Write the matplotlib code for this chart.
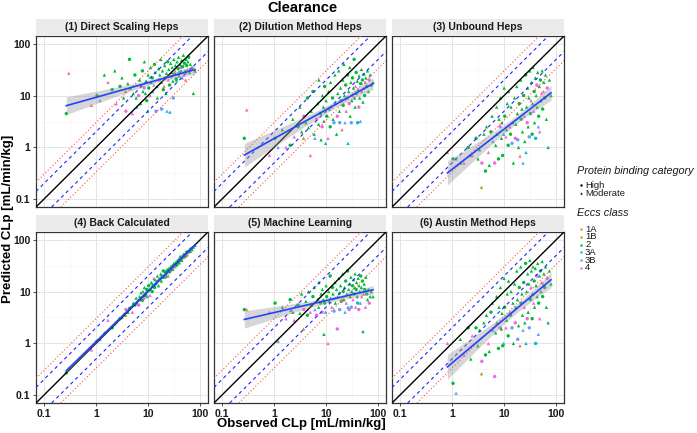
import numpy as np
import matplotlib.pyplot as plt

plt.rcParams['font.family'] = ['Liberation Sans', 'DejaVu Sans']

# ---- data (log-log CLp in mL/min/kg) ----
panel_titles = ["(1) Direct Scaling Heps", "(2) Dilution Method Heps", "(3) Unbound Heps",
                "(4) Back Calculated", "(5) Machine Learning", "(6) Austin Method Heps"]

observed = [0.27, 0.30, 0.82, 1.05, 1.2, 1.45, 1.7, 2.05, 2.3, 2.45,
            2.9, 3.15, 3.4, 3.7, 3.75, 4.1, 4.4, 4.6, 5.0, 5.2,
            5.6, 5.9, 6.1, 6.6, 6.9, 7.2, 7.3, 7.8, 8.0, 8.4,
            8.5, 8.9, 9.1, 9.4, 9.8, 10.0, 10.3, 10.9, 11.2, 11.5,
            12.0, 12.2, 12.9, 13.3, 13.6, 14.2, 14.8, 15.1, 15.9, 16.4,
            16.8, 17.5, 18.0, 18.3, 19.0, 19.6, 20.2, 20.9, 21.3, 22.0,
            22.6, 23.1, 23.8, 24.4, 25.0, 25.9, 26.3, 27.1, 27.8, 28.4,
            29.0, 29.9, 30.5, 31.2, 32.1, 32.9, 33.5, 34.6, 35.2, 36.0,
            36.9, 37.8, 38.5, 39.7, 40.4, 41.3, 42.5, 43.1, 44.2, 45.5,
            46.2, 47.6, 48.3, 49.9, 51.0, 52.4, 53.8, 55.0, 56.7, 58.1,
            60.2, 62.5, 64.8, 67.3, 70.1, 74.0, 79.5]

eccs = ["2", "1A", "4", "2", "3B", "2", "4", "2", "2", "4",
        "2", "2", "2", "1B", "4", "2", "2", "2", "4", "2",
        "2", "2", "3B", "4", "2", "2", "2", "2", "2", "4",
        "2", "2", "2", "2", "3A", "2", "2", "4", "2", "2",
        "2", "2", "4", "2", "2", "3B", "2", "2", "2", "4",
        "2", "2", "2", "3B", "2", "2", "1A", "2", "2", "2",
        "2", "3B", "2", "4", "2", "2", "3A", "2", "4", "2",
        "2", "2", "3B", "2", "2", "4", "2", "2", "2", "2",
        "4", "2", "2", "2", "3A", "2", "4", "2", "2", "3B",
        "2", "2", "4", "2", "2", "1A", "2", "2", "4", "2",
        "2", "2", "2", "4", "2", "2", "2"]

binding = ("HMMHMMMHMM" "HMMMHMHMMM" "HMMHMMMHMH" "MMMHMMHMMM" "HMMHMHMMMH"
           "MMMHMHMMHM" "MMHMMHMMHM" "MMHMHMMHMM" "MHMMHMHMMM" "HMMHMMMHMM" "HMMHMMM")

nan = np.nan
pred_direct = [4.5, 27, 6.5, 10, 8, 25, 18, 13, 30, 7,
               15, 22, 9, 12, 5, 17, 50, 14, 4.5, 11,
               25, 9, 6, 10, 20, 7, 16, 30, 12, 14,
               45, 11, 19, 8, 5, 25, 14, 10, 35, 18,
               22, 12, 16, 40, 28, 5, 15, 9, 33, 20,
               25, 50, 18, 5.5, 30, 13, 15, 38, 22, 11,
               27, 5, 45, 20, 32, 16, 4.8, 42, 23, 28,
               35, 19, 9, 50, 26, 30, 38, 21, 20, 45,
               26, 33, 55, 24, 28, 40, 35, 30, 48, 22,
               36, 60, 25, 42, 30, 20, 50, 38, 32, 45,
               55, 28, 40, 33, 35, 11, 30]
pred_dilution = [1.5, 5.3, 0.7, 1.5, 1.0, 2.2, 1.0, 1.1, 3.5, 1.6,
                 2.5, 6, 2.0, 1.5, 4, 3, 9, 2.4, 0.7, 5,
                 12, 1.8, 1.5, 3.5, 7, 2.8, 20, 4.5, 1.4, 2.5,
                 10, 6, 3.2, 15, 1.2, 8, 4, 1.5, 12, 5.5,
                 2.5, 18, 6, 9, 3.5, 3.0, 25, 7, 1.8, 4,
                 11, 30, 5, 3.0, 14, 8, 2.2, 20, 6.5, 40,
                 10, 3.0, 16, 5, 9, 25, 1.2, 12, 7, 35,
                 4, 18, 3.0, 8, 22, 10, 14, 50, 9, 6,
                 15, 28, 11, 19, 3, 13, 6, 24, 9, 3.2,
                 17, 32, 12, 20, 7.5, 14, 26, 10, 18, 22,
                 15, 30, 12, 20, 25, 16, 18]
pred_unbound = [nan, nan, 0.8, 0.6, 0.6, 0.5, 0.5, 1.0, 0.7, 0.7,
                1.5, 0.6, 0.9, 0.17, 0.5, 1.8, 0.35, 2.5, 0.8, 0.45,
                2.0, 4, 1.3, 0.5, 1.1, 6, 1.8, 0.6, 3.5, 2.5,
                9, 1.5, 3, 0.7, 1.8, 14, 4, 1.6, 2.2, 7,
                1.1, 12, 2.5, 1.8, 6, 1.2, 3, 0.5, 9, 1.5,
                2.8, 15, 4.5, 1.4, 1.0, 7, 0.68, 20, 3.5, 5.5,
                2.0, 0.5, 10, 4, 1.3, 25, 0.8, 6, 3, 14,
                2.5, 9, 1.6, 30, 4.5, 8, 18, 1.8, 7, 35,
                5, 12, 3, 22, 1.5, 10, 16, 6, 28, 2.5,
                4, 15, 2, 20, 8, 11, 30, 5.5, 12, 18,
                9, 25, 3.5, 14, 1.0, 20, 10]
pred_back = [0.27, 0.33, 0.75, 1.1, 1.2, 1.6, 2.8, 2.0, 2.4, 2.6,
             3.0, 3.2, 3.6, 3.5, 4.5, 4.0, 4.7, 5.0, 4.0, 6.0,
             5.5, 7.5, 6.0, 5.5, 8, 7, 9.5, 6.8, 10, 7.5,
             12, 8.5, 9, 11, 8, 10.5, 13, 8.5, 11, 15,
             10, 14, 18, 12, 17, 14, 16, 20, 13, 17,
             18, 22, 16, 20, 19, 25, 20, 19, 24, 22,
             20, 23, 26, 20, 28, 24, 27, 30, 26, 28,
             32, 27, 30, 35, 32, 30, 36, 32, 38, 34,
             40, 36, 42, 36, 40, 48, 42, 45, 40, 50,
             46, 50, 45, 52, 48, 55, 50, 58, 52, 60,
             58, 65, 60, 68, 65, 72, 78]
pred_ml = [4.5, 4.5, 4.0, 6, 1.1, 5, 3, 7, 4, 2.8,
           5.5, 3.8, 9, 1.9, 4.5, 6.5, 3.5, 10, 4, 5.5,
           8, 12, 4.5, 3.5, 7, 5, 15, 6, 9, 4,
           11, 7, 1.5, 6, 4, 13, 8, 1.0, 10, 6.5,
           20, 7.5, 5, 12, 9, 4.2, 15, 6, 11, 1.9,
           8, 18, 9.5, 4.5, 13, 6.5, 7, 22, 10, 7,
           12, 4, 16, 6, 9, 25, 5, 11, 4.5, 14,
           8, 19, 5, 10, 13, 7, 17, 9, 12, 22,
           5, 11, 15, 8, 6, 18, 4.5, 13, 10, 6,
           20, 12, 8, 16, 1.7, 9, 14, 11, 5, 19,
           9, 7, 11, 6, 8, 10, 8]
pred_austin = [nan, nan, 1.0, 0.17, 0.11, 1.2, 0.6, 2.0, 0.5, 1.4,
               2.0, 0.9, 1.8, 0.26, 0.45, 2.5, 0.6, 3.5, 1.0, 0.7,
               4, 6, 1.8, 0.23, 1.6, 8, 2.5, 0.8, 5, 2,
               12, 1.9, 3.8, 0.9, 1.0, 18, 5, 2, 2.8, 9,
               1.4, 16, 4, 3.5, 10, 2, 6, 1.0, 14, 2.5,
               5, 25, 7, 1.2, 2.2, 12, 0.9, 30, 6, 9,
               3.5, 1.8, 15, 5, 2.5, 35, 1.0, 10, 3, 22,
               4, 14, 2, 40, 7, 12, 25, 3, 9, 30,
               6, 16, 5, 28, 1.0, 13, 20, 8, 35, 1.5,
               6, 20, 3, 25, 10, 15, 38, 8, 14, 22,
               12, 30, 5, 18, 2.5, 25, 14]

predicted = [pred_direct, pred_dilution, pred_unbound, pred_back, pred_ml, pred_austin]

class_names = ["1A", "1B", "2", "3A", "3B", "4"]
class_colors = ["#F8766D", "#B79F00", "#00BA38", "#00BFC4", "#619CFF", "#F564E3"]
binding_names = ["High", "Moderate"]
binding_markers = ["o", "^"]

# ---- layout in pixels ----
W, H = 697, 433
fig = plt.figure(figsize=(W / 100, H / 100), dpi=100)


def box(x0, y0, x1, y1):
    return [x0 / W, 1 - y1 / H, (x1 - x0) / W, (y1 - y0) / H]


cols = [(36, 208), (214, 386), (392, 564)]
rows = [(36, 207), (232, 403)]
lo, hi = 10 ** -1.15, 10 ** 2.15

x_all = np.array(observed)
col_of = {c: k for c, k in zip(class_names, class_colors)}
colors = np.array([col_of[c] for c in eccs])
bind = np.array(list(binding))

for i, (title, pred) in enumerate(zip(panel_titles, predicted)):
    r, c = divmod(i, 3)
    x0, x1 = cols[c]
    y0, y1 = rows[r]
    ax = fig.add_axes(box(x0, y0, x1, y1))
    st = fig.add_axes(box(x0, y0 - 17, x1, y0))
    st.set_facecolor("#EBEBEB")
    st.set_xticks([]); st.set_yticks([])
    for s in st.spines.values():
        s.set_visible(False)
    st.text(0.5, 0.5, title, ha="center", va="center", fontsize=7.5,
            fontweight="bold", color="#1A1A1A", transform=st.transAxes)

    y = np.array(pred, dtype=float)
    ok = ~np.isnan(y)
    x, y, col, b = x_all[ok], y[ok], colors[ok], bind[ok]

    ax.set_xscale("log"); ax.set_yscale("log")
    ax.set_xlim(lo, hi); ax.set_ylim(lo, hi)
    ax.set_xticks([0.1, 1, 10, 100], ["0.1", "1", "10", "100"])
    ax.set_yticks([0.1, 1, 10, 100], ["0.1", "1", "10", "100"])
    ax.set_xticks([10 ** -0.5, 10 ** 0.5, 10 ** 1.5], minor=True)
    ax.set_yticks([10 ** -0.5, 10 ** 0.5, 10 ** 1.5], minor=True)
    ax.xaxis.set_minor_formatter(plt.NullFormatter())
    ax.yaxis.set_minor_formatter(plt.NullFormatter())
    ax.grid(True, which="major", color="#E5E5E5", lw=0.7, zorder=0)
    ax.grid(True, which="minor", color="#F3F3F3", lw=0.4, zorder=0)
    ax.set_axisbelow(True)
    ax.tick_params(which="minor", length=0)
    ax.tick_params(which="major", length=2.5, width=0.6, color="#333333",
                   labelsize=7.5, pad=1.5, labelcolor="#1A1A1A")
    for lab in ax.get_xticklabels() + ax.get_yticklabels():
        lab.set_fontweight("bold")
    if r == 0:
        ax.tick_params(bottom=False, labelbottom=False)
    if c > 0:
        ax.tick_params(left=False, labelleft=False)
    for s in ax.spines.values():
        s.set_color("#333333"); s.set_linewidth(0.9)

    for bn, mk in zip(["H", "M"], binding_markers):
        m = b == bn
        ax.scatter(x[m], y[m], s=6, marker=mk, c=col[m], lw=0, zorder=2)

    ax.axline((1, 1), (10, 10), color="black", lw=1.0, zorder=3)
    for f in (2, 0.5):
        ax.axline((1, f), (10, 10 * f), color="#2020FF", lw=0.8,
                  ls=(0, (3, 3)), zorder=3)
    for f in (3, 1 / 3):
        ax.axline((1, f), (10, 10 * f), color="#FF5050", lw=0.8,
                  ls=(0, (1, 2)), zorder=3)

    # linear fit in log space with 95% band
    lx, ly = np.log10(x), np.log10(y)
    slope, icpt = np.polyfit(lx, ly, 1)
    n = len(lx)
    sd = np.sqrt(np.sum((ly - (icpt + slope * lx)) ** 2) / (n - 2))
    gx = np.linspace(lx.min(), lx.max(), 80)
    gy = icpt + slope * gx
    se = sd * np.sqrt(1 / n + (gx - lx.mean()) ** 2 / np.sum((lx - lx.mean()) ** 2))
    ax.fill_between(10 ** gx, 10 ** (gy - 1.98 * se), 10 ** (gy + 1.98 * se),
                    color="#999999", alpha=0.4, lw=0, zorder=4)
    ax.plot(10 ** gx, 10 ** gy, color="#2244FF", lw=1.2, zorder=5)

# ---- titles ----
fig.text(302 / W, 1 - 8 / H, "Clearance", ha="center", va="center",
         fontsize=10.5, fontweight="bold")
fig.text(301 / W, 1 - 424 / H, "Observed CLp [mL/min/kg]", ha="center",
         va="center", fontsize=9.5, fontweight="bold")
fig.text(8 / W, 1 - 219 / H, "Predicted CLp [mL/min/kg]", ha="center",
         va="center", rotation=90, fontsize=9.5, fontweight="bold")

# ---- legends ----
ov = fig.add_axes([0, 0, 1, 1])
ov.set_xlim(0, W); ov.set_ylim(H, 0); ov.axis("off")
ov.text(577, 171, "Protein binding category", style="italic", fontsize=7.8,
        va="center", color="#1A1A1A")
for k, (nm, mk) in enumerate(zip(binding_names, binding_markers)):
    yy = 185 + 8 * k
    ov.scatter([581], [yy], s=3, marker=mk, c="black", lw=0)
    ov.text(585, yy, nm, fontsize=6.8, va="center", color="#1A1A1A")
ov.text(577, 213, "Eccs class", style="italic", fontsize=7.8, va="center",
        color="#1A1A1A")
for k, (nm, cl) in enumerate(zip(class_names, class_colors)):
    yy = 229 + 7.8 * k
    ov.scatter([581], [yy], s=3, marker="o", c=cl, lw=0)
    ov.text(585, yy, nm, fontsize=6.8, va="center", color="#1A1A1A")

fig.savefig("out.png", dpi=100)
